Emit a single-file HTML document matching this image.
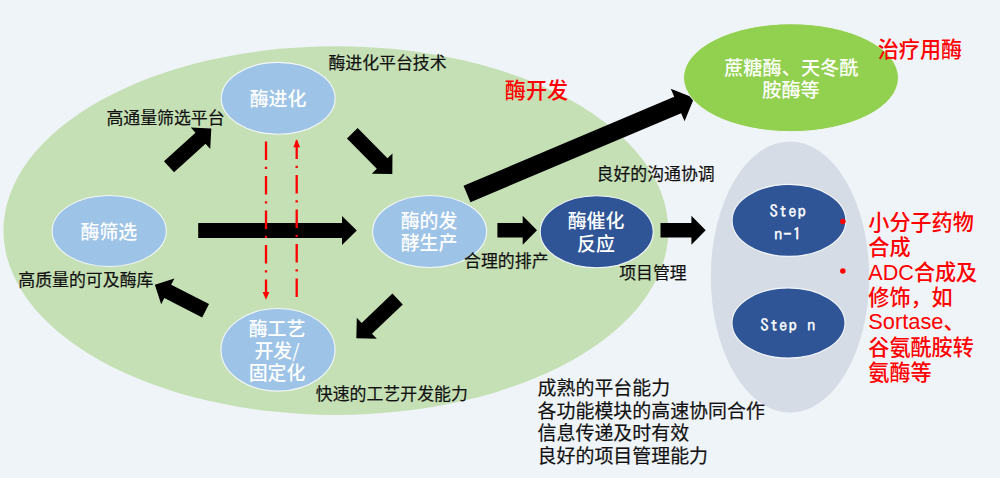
<!DOCTYPE html>
<html lang="zh">
<head>
<meta charset="utf-8">
<title>酶开发</title>
<style>
html,body{margin:0;padding:0;background:#eff4f8;}
body{width:1000px;height:478px;overflow:hidden;}
svg{display:block;}
text{font-family:"Liberation Sans","Noto Sans CJK SC",sans-serif;}
.lbl{font-size:16.9px;fill:#111;stroke:#111;stroke-width:0.2px;}
.wh{font-size:18.9px;fill:#fff;text-anchor:middle;font-weight:500;}
.red{font-size:21.1px;fill:#ff0000;font-weight:500;}
.big{font-size:18.95px;fill:#111;stroke:#111;stroke-width:0.2px;}
.mono text{font-family:"IPAGothic","Liberation Mono",monospace;font-size:16.7px;letter-spacing:1px;fill:#fff;stroke:#fff;stroke-width:0.4px;text-anchor:middle;}
</style>
</head>
<body>
<svg width="1000" height="478" viewBox="0 0 1000 478">
<rect width="1000" height="478" fill="#eff4f8"/>
<!-- big green ellipse -->
<ellipse cx="335.9" cy="230.6" rx="332.4" ry="184.3" fill="#c5e0b4"/>
<!-- gray ellipse -->
<ellipse cx="790" cy="277" rx="79.2" ry="135.5" fill="#d6dce5"/>
<!-- long arrow (behind green ellipse) -->
<path fill="#000" transform="translate(467,194) rotate(-22.9)" d="M0,-8.9 L228.7,-8.9 L228.7,-17.75 L246.5,0 L228.7,17.75 L228.7,8.9 L0,8.9 Z"/>
<!-- green ellipse -->
<ellipse cx="791" cy="77.7" rx="107.5" ry="54" fill="#92d050" stroke="#f2f6fa" stroke-width="1"/>
<!-- light blue ellipses -->
<g fill="#9dc3e6" stroke="#f2f6fa" stroke-width="1.1">
<ellipse cx="278.2" cy="98.3" rx="56.9" ry="35.9"/>
<ellipse cx="109.2" cy="231" rx="57.1" ry="35.5"/>
<ellipse cx="429.6" cy="231.5" rx="57" ry="36"/>
<ellipse cx="278" cy="349.8" rx="57" ry="41.3"/>
</g>
<!-- dark blue ellipses -->
<g fill="#2f5597" stroke="#f2f6fa" stroke-width="1.1">
<ellipse cx="596.7" cy="231.8" rx="56.5" ry="36"/>
<ellipse cx="789" cy="220.4" rx="56.9" ry="36"/>
<ellipse cx="788.5" cy="323" rx="56.5" ry="35.1"/>
</g>
<!-- block arrows -->
<g fill="#000">
<path transform="translate(169,166.8) rotate(-42.1)" d="M0,-7.5 L42.5,-7.5 L42.5,-14.5 L57,0 L42.5,14.5 L42.5,7.5 L0,7.5 Z"/>
<path transform="translate(352.3,133.3) rotate(45.4)" d="M0,-7.5 L42.5,-7.5 L42.5,-14.5 L57,0 L42.5,14.5 L42.5,7.5 L0,7.5 Z"/>
<path transform="translate(397.6,299) rotate(136.4)" d="M0,-7.5 L42.5,-7.5 L42.5,-14.5 L57,0 L42.5,14.5 L42.5,7.5 L0,7.5 Z"/>
<path transform="translate(205.6,310.8) rotate(207.1)" d="M0,-7.5 L42.5,-7.5 L42.5,-14.5 L57,0 L42.5,14.5 L42.5,7.5 L0,7.5 Z"/>
<path d="M198.2,223 L342,223 L342,216 L356.8,230.5 L342,245 L342,238 L198.2,238 Z"/>
<path d="M497.4,223.1 L522.7,223.1 L522.7,215.8 L537,230.3 L522.7,244.8 L522.7,237.5 L497.4,237.5 Z"/>
<path d="M660.5,223.1 L691.4,223.1 L691.4,215.8 L705.7,230.3 L691.4,244.8 L691.4,237.5 L660.5,237.5 Z"/>
</g>
<!-- red dash-dot lines -->
<g stroke="#ff0000" stroke-width="2.3" fill="none" stroke-dasharray="18.6 6.8 2.3 6.8">
<line x1="266" y1="141.4" x2="266" y2="295"/>
<line x1="296.7" y1="140.4" x2="296.7" y2="297"/>
</g>
<g fill="#ff0000">
<path d="M262.6,292 L269.4,292 L266,299.8 Z"/>
<path d="M293.3,147.3 L300.1,147.3 L296.7,139.3 Z"/>
<circle cx="842.8" cy="221.4" r="2.75"/>
<circle cx="842.8" cy="271" r="2.75"/>
</g>
<!-- labels -->
<g class="lbl">
<text x="106.4" y="124.2">高通量筛选平台</text>
<text x="328.4" y="69.3">酶进化平台技术</text>
<text x="18.3" y="286.2">高质量的可及酶库</text>
<text x="315.8" y="400.2">快速的工艺开发能力</text>
<text x="464.1" y="267">合理的排产</text>
<text x="619.2" y="279.4">项目管理</text>
<text x="596.5" y="179.5">良好的沟通协调</text>
</g>
<g class="wh">
<text x="278" y="106">酶进化</text>
<text x="108.9" y="239.4">酶筛选</text>
<text x="429" y="227.7">酶的发</text>
<text x="429" y="249.9">酵生产</text>
<text x="277" y="335.5">酶工艺</text>
<text x="277" y="357.8">开发<tspan style="font-family:'Noto Sans CJK SC',sans-serif;font-weight:400">/</tspan></text>
<text x="277" y="380.1">固定化</text>
<text x="596" y="228.3">酶催化</text>
<text x="596" y="250.5">反应</text>
<text x="791.3" y="75.3" style="font-size:19.2px">蔗糖酶、天冬酰</text>
<text x="791" y="96.8" style="font-size:19.2px">胺酶等</text>
</g>
<g class="mono">
<text x="788.2" y="217.3">Step</text>
<text x="788" y="239.6">n-1</text>
<text x="788.4" y="331.4">Step n</text>
</g>
<g class="red">
<text x="504.8" y="97.9">酶开发</text>
<text x="877.7" y="56.9">治疗用酶</text>
<text x="868.3" y="229.9">小分子药物</text>
<text x="868.3" y="254.9">合成</text>
<text x="868.3" y="279.9"><tspan style="font-size:21.6px">ADC</tspan>合成及</text>
<text x="868.3" y="304.9">修饰，如</text>
<text x="868.3" y="329.3"><tspan style="font-size:21.8px">Sortase</tspan>、</text>
<text x="868.3" y="354.9">谷氨酰胺转</text>
<text x="868.3" y="379.9">氨酶等</text>
</g>
<g class="big">
<text x="537.6" y="394.8">成熟的平台能力</text>
<text x="537.6" y="417.5">各功能模块的高速协同合作</text>
<text x="537.6" y="440.2">信息传递及时有效</text>
<text x="537.6" y="462.9">良好的项目管理能力</text>
</g>
</svg>
</body>
</html>
